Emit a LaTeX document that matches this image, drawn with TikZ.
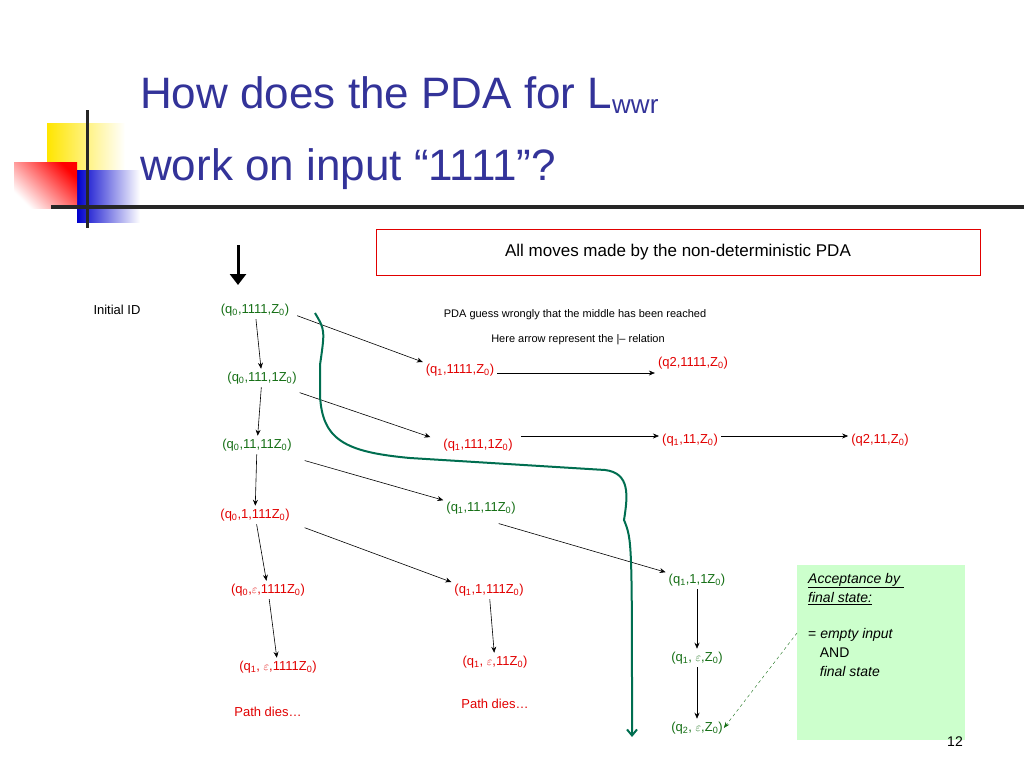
\documentclass[tikz,border=0pt]{standalone}
\usepackage{fontspec}
\setmainfont{Liberation Sans}
\usetikzlibrary{arrows.meta}
\definecolor{tgreen}{RGB}{20,110,20}
\definecolor{tred}{RGB}{225,0,0}
\definecolor{tblue}{RGB}{51,51,153}
\definecolor{pgreen}{RGB}{0,110,80}
\begin{document}
\begin{tikzpicture}[x=1pt,y=-1pt,
  idtxt/.style={font=\fontsize{13}{15}\selectfont,inner sep=1pt},
  gid/.style={idtxt,text=tgreen},
  rid/.style={idtxt,text=tred},
  arr/.style={-{Stealth[length=6pt,width=5pt]},line width=0.6pt,shorten >=2pt,shorten <=2pt}]
\useasboundingbox (0,0) rectangle (1024,768);
% decoration
\shade[left color=yellow!80!orange,right color=white] (47,123) rectangle (125,170);
\shade[left color=blue!80!black,right color=white] (77,170) rectangle (140,222);
\shade[left color=white,right color=red,shading angle=135] (14,162) rectangle (77,208);
\draw[line width=4pt,black!85] (51,207) -- (1024,207);
\draw[line width=3pt,black!85] (87,110) -- (87,228);
% title
\node[anchor=base west,text=tblue,font=\fontsize{44}{50}\selectfont,inner sep=0] (t1) at (140,108) {How does the PDA for L\textsubscript{\fontsize{26}{30}\selectfont wwr}};
\node[anchor=base west,text=tblue,font=\fontsize{44}{50}\selectfont,inner sep=0] (t2) at (140,180) {work on input “1111”?};
% header box
\node[draw=tred,line width=0.8pt,minimum width=604pt,minimum height=46pt,font=\fontsize{17}{20}\selectfont] (hdr) at (678,252) {All moves made by the non-deterministic PDA};
\coordinate (bt) at (238,245); \coordinate (bb) at (238,285);
\draw[line width=3pt,-{Triangle[length=11pt,width=16pt]}] (bt) -- (bb);
\node[idtxt] (init) at (117,310) {Initial ID};
\node[gid] (A0) at (255,310) {(q\textsubscript{0},1111,Z\textsubscript{0})};
\node[gid] (A1) at (262,378) {(q\textsubscript{0},111,1Z\textsubscript{0})};
\node[gid] (A2) at (257,445) {(q\textsubscript{0},11,11Z\textsubscript{0})};
\node[rid] (A3) at (255,515) {(q\textsubscript{0},1,111Z\textsubscript{0})};
\node[rid] (A4) at (268,590) {(q\textsubscript{0},$\varepsilon$,1111Z\textsubscript{0})};
\node[rid] (A5) at (278,667) {(q\textsubscript{1}, $\varepsilon$,1111Z\textsubscript{0})};
\node[rid] (pd1) at (268,712) {Path dies…};
\node[rid] (B0) at (460,370) {(q\textsubscript{1},1111,Z\textsubscript{0})};
\node[rid] (B0b) at (693,363) {(q2,1111,Z\textsubscript{0})};
\node[rid] (B1) at (478,445) {(q\textsubscript{1},111,1Z\textsubscript{0})};
\node[rid] (C1) at (690,440) {(q\textsubscript{1},11,Z\textsubscript{0})};
\node[rid] (D1) at (880,440) {(q2,11,Z\textsubscript{0})};
\node[gid] (B2) at (481,508) {(q\textsubscript{1},11,11Z\textsubscript{0})};
\node[rid] (B3) at (489,590) {(q\textsubscript{1},1,111Z\textsubscript{0})};
\node[rid] (B4) at (495,662) {(q\textsubscript{1}, $\varepsilon$,11Z\textsubscript{0})};
\node[rid] (pd2) at (495,704) {Path dies…};
\node[gid] (C3) at (697,580) {(q\textsubscript{1},1,1Z\textsubscript{0})};
\node[gid] (C4) at (697,658) {(q\textsubscript{1}, $\varepsilon$,Z\textsubscript{0})};
\node[gid] (C5) at (697,728) {(q\textsubscript{2}, $\varepsilon$,Z\textsubscript{0})};
\node[font=\fontsize{11}{13}\selectfont] (n1) at (575,315) {PDA guess wrongly that the middle has been reached};
\node[font=\fontsize{11}{13}\selectfont] (n2) at (578,340) {Here arrow represent the |-- relation};
% vertical arrows
\draw[arr] (A0) -- (A1);
\draw[arr] (A1) -- (A2);
\draw[arr] (A2) -- (A3);
\draw[arr] (A3) -- (A4);
\draw[arr] (A4) -- (A5);
\draw[arr] (B3) -- (B4);
\draw[arr] (C3) -- (C4);
\draw[arr] (C4) -- (C5);
% diagonal arrows
\draw[arr] (A0.east) ++(5,5) coordinate (d0) -- (B0.north west);
\draw[arr] (A1.east) ++(0,14) coordinate (d1) -- ([xshift=-10pt]B1.north west);
\draw[arr] (A2.east) ++(10,15) coordinate (d2) -- (B2.north west);
\draw[arr] (A3.east) ++(12,12) coordinate (d3) -- (B3.north west);
\draw[arr] (B2.east) ++(-20,15) coordinate (d4) -- (C3.north west);
% horizontal
\draw[arr] (B0.east) ++(0,3) coordinate (h0) -- (B0b.west |- h0);
\draw[arr] (B1.east) ++(5,-9) coordinate (h1) -- (C1.west |- h1);
\draw[arr] (C1.east) ++(0,-4) coordinate (h2) -- (D1.west |- h2);
% green path
\coordinate (g0) at (315,313); \coordinate (g1) at (632,737);
\draw[pgreen,line width=2pt,-{Straight Barb[length=6pt,width=10pt]}] (g0) .. controls (325,330) .. (320,365) -- (320,395) .. controls (322,440) and (345,452) .. (410,458) -- (605,470) .. controls (630,473) and (628,495) .. (624,520) .. controls (632,540) .. (g1);
% acceptance box
\node[fill=green!20,minimum width=168pt,minimum height=175pt,anchor=north west,inner sep=0] (acc) at (797,565) {};
\node[anchor=north west,align=left,font=\fontsize{14}{19}\selectfont,inner sep=0] (acct) at (808,573) {\textit{\underline{Acceptance by\ }}\\\textit{\underline{final state:}}\\[17pt]= \textit{empty input}\\\ \ \ AND\\\ \ \ \textit{final state}};
\draw[tgreen,dashed,-{Stealth[length=6pt]}] (acc.west |- 0,633) -- (C5.east);
\node[font=\fontsize{14}{16}\selectfont] (pg) at (955,742) {12};
\end{tikzpicture}
\end{document}
